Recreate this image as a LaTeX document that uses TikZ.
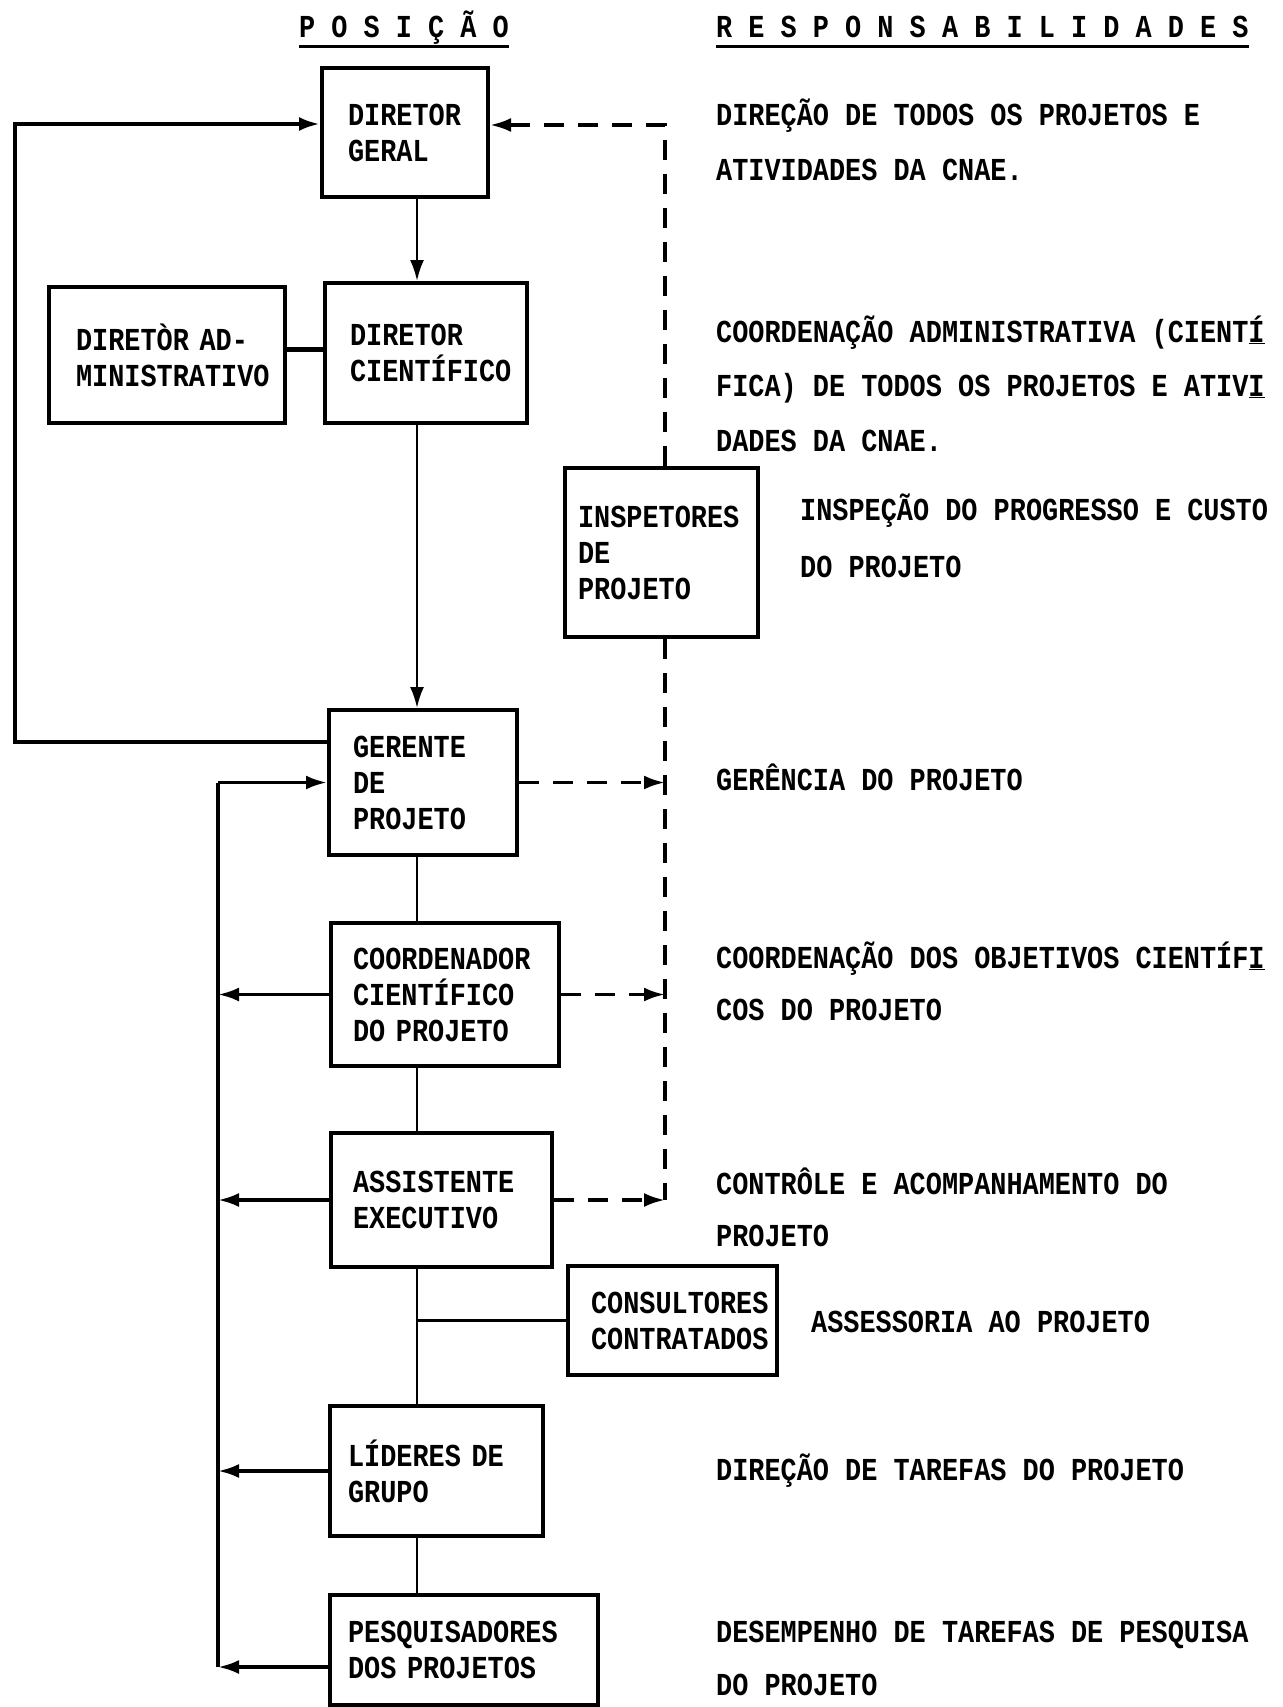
\documentclass[tikz,border=0pt]{standalone}
\usepackage{fontspec}
\newfontfamily\tw[FakeStretch=0.84]{Liberation Mono}
\usetikzlibrary{arrows.meta}
\tikzset{
  txt/.style={font=\tw\bfseries\fontsize{32}{36}\selectfont, inner sep=0pt},
  bx/.style n args={4}{draw, line width=4pt, minimum width=#1, minimum height=#2,
     inner xsep=#3, inner ysep=0pt, text width=#4, align=left,
     font=\tw\bfseries\fontsize{32}{36}\selectfont},
  arr/.style={-{Latex[length=21pt,width=14pt]}},
  conn/.style={line width=2.5pt},
  loopline/.style={line width=4pt},
  sideline/.style={line width=3.5pt},
  dline/.style={line width=3.5pt, dash pattern=on 20pt off 14pt},
}
\begin{document}
\begin{tikzpicture}[x=1pt,y=-1pt]
\useasboundingbox (0,0) rectangle (1282,1707);
% headers
\node[txt,anchor=base west] (hpos) at (299,38) {P O S I Ç Ã O};
\node[txt,anchor=base west] (hresp) at (716,38) {R E S P O N S A B I L I D A D E S};
\draw[line width=3pt] ([yshift=-9pt]hpos.base west) -- ([yshift=-9pt]hpos.base east);
\draw[line width=3pt] ([yshift=-9pt]hresp.base west) -- ([yshift=-9pt]hresp.base east);
% boxes
\node[bx={166pt}{129pt}{26pt}{114pt}] (dg) at (405,132.5) {DIRETOR\\GERAL};
\node[bx={202pt}{140pt}{25pt}{152pt}] (dc) at (426,353) {DIRETOR\\CIENTÍFICO};
\node[bx={236pt}{136pt}{27pt}{182pt}] (da) at (167,355) {DIRETÒR AD-\\MINISTRATIVO};
\node[bx={193pt}{169pt}{13pt}{167pt}] (insp) at (661.5,552.5) {INSPETORES\\DE\\PROJETO};
\node[bx={188pt}{145pt}{24pt}{140pt}] (ger) at (423,782.5) {GERENTE\\DE\\PROJETO};
\node[bx={228pt}{143pt}{22pt}{184pt}] (coord) at (445,994.5) {COORDENADOR\\CIENTÍFICO\\DO PROJETO};
\node[bx={221pt}{134pt}{22pt}{177pt}] (assist) at (441.5,1200) {ASSISTENTE\\EXECUTIVO};
\node[bx={209pt}{109pt}{23pt}{163pt}] (cons) at (672.5,1320.5) {CONSULTORES\\CONTRATADOS};
\node[bx={213pt}{130pt}{18pt}{177pt}] (lid) at (436.5,1471) {LÍDERES DE\\GRUPO};
\node[bx={268pt}{110pt}{18pt}{232pt}] (pesq) at (464,1650) {PESQUISADORES\\DOS PROJETOS};
% helper coordinates
\coordinate (col) at (417,0);
\coordinate (dl) at (665,0);
\coordinate (lv) at (218,0);
\coordinate (lp) at (15,0);
\coordinate (ya) at (0,349);
\coordinate (yl1) at (0,742);
\coordinate (yl2) at (0,124);
\coordinate (yd) at (0,125);
\coordinate (yp) at (0,1667);
% central column
\draw[conn,arr] (dg.south -| col) -- (dc.north -| col);
\draw[conn,arr] (dc.south -| col) -- (ger.north -| col);
\draw[conn] (ger.south -| col) -- (coord.north -| col);
\draw[conn] (coord.south -| col) -- (assist.north -| col);
\draw[conn] (assist.south -| col) -- (lid.north -| col);
\draw[conn] (lid.south -| col) -- (pesq.north -| col);
\draw[conn] (cons.west) -- (cons.west -| col);
\draw[line width=5pt] (da.east |- ya) -- (dc.west |- ya);
% outer loop
\draw[loopline,arr] (ger.west |- yl1) -- (lp |- yl1) -- (lp |- yl2) -- (dg.west |- yl2);
% dashed inspection line
\draw[dline,arr] (dl |- insp.north) -- (dl |- yd) -- (dg.east |- yd);
\draw[dline] (dl |- insp.south) -- (dl |- assist.east);
\draw[dline,arr] (ger.east) -- (ger.east -| dl);
\draw[dline,arr] (coord.east) -- (coord.east -| dl);
\draw[dline,arr] (assist.east) -- (assist.east -| dl);
% left feedback line
\draw[sideline] (lv |- ger.west) -- (lv |- yp);
\draw[sideline,arr] (lv |- ger.west) -- (ger.west);
\draw[sideline,arr] (coord.west) -- (coord.west -| lv);
\draw[sideline,arr] (assist.west) -- (assist.west -| lv);
\draw[sideline,arr] (lid.west) -- (lid.west -| lv);
\draw[sideline,arr] (pesq.west |- yp) -- (lv |- yp);
% responsibilities
\node[txt,anchor=base west] (r1) at (716,126) {DIREÇÃO DE TODOS OS PROJETOS E};
\node[txt,anchor=base west] (r2) at (716,181) {ATIVIDADES DA CNAE.};
\node[txt,anchor=base west] (r3) at (716,342) {COORDENAÇÃO ADMINISTRATIVA (CIENT\underline{Í}};
\node[txt,anchor=base west] (r4) at (716,396) {FICA) DE TODOS OS PROJETOS E ATIV\underline{I}};
\node[txt,anchor=base west] (r5) at (716,451) {DADES DA CNAE.};
\node[txt,anchor=base west] (r6) at (800,520) {INSPEÇÃO DO PROGRESSO E CUSTO};
\node[txt,anchor=base west] (r7) at (800,577) {DO PROJETO};
\node[txt,anchor=base west] (r8) at (716,790) {GERÊNCIA DO PROJETO};
\node[txt,anchor=base west] (r9) at (716,968) {COORDENAÇÃO DOS OBJETIVOS CIENTÍF\underline{I}};
\node[txt,anchor=base west] (r10) at (716,1020) {COS DO PROJETO};
\node[txt,anchor=base west] (r11) at (716,1194) {CONTRÔLE E ACOMPANHAMENTO DO};
\node[txt,anchor=base west] (r12) at (716,1246) {PROJETO};
\node[txt,anchor=base west] (r13) at (811,1332) {ASSESSORIA AO PROJETO};
\node[txt,anchor=base west] (r14) at (716,1480) {DIREÇÃO DE TAREFAS DO PROJETO};
\node[txt,anchor=base west] (r15) at (716,1642) {DESEMPENHO DE TAREFAS DE PESQUISA};
\node[txt,anchor=base west] (r16) at (716,1695) {DO PROJETO};
\end{tikzpicture}
\end{document}
